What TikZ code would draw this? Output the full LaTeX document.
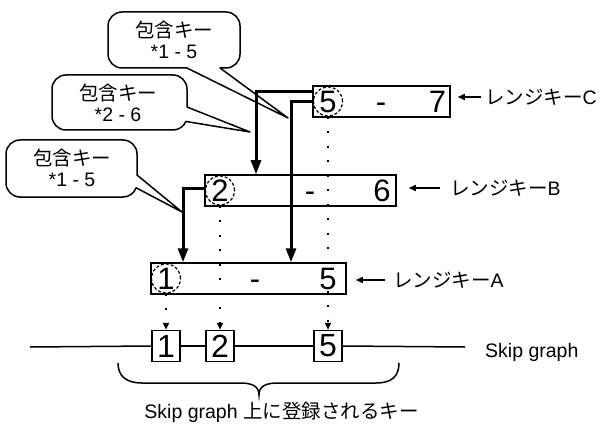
\documentclass[tikz,border=0pt]{standalone}
\usepackage{fontspec}
\setmainfont{Liberation Sans}
\newfontfamily\jp{Noto Sans CJK JP}
\usetikzlibrary{arrows.meta}
\begin{document}
\begin{tikzpicture}[x=1pt,y=1pt,
  keybox/.style={draw, line width=1.5pt, minimum height=31pt, inner sep=0pt, fill=white},
  digit/.style={font=\fontsize{31}{31}\selectfont, inner sep=0pt, anchor=base},
  dcirc/.style={draw, circle, dash pattern=on 3pt off 2pt, line width=1.2pt, minimum size=29pt, inner sep=0pt},
  smallbox/.style={draw, fill=white, line width=1.5pt, minimum width=28pt, minimum height=31pt, inner sep=0pt, font=\fontsize{32}{32}\selectfont},
  bigarrow/.style={line width=3pt, -{Triangle[length=14pt,width=10pt]}},
  dotarrow/.style={line width=2pt, dash pattern=on 2pt off 12.5pt, -{Triangle[length=7pt,width=6pt]}},
  labarrow/.style={line width=1.5pt, -{Triangle[length=7pt,width=6pt]}},
  lab/.style={font=\fontsize{19.5}{21}\selectfont, inner sep=0pt},
  callout/.style={draw, fill=white, line width=1.5pt, line join=round},
  plainline/.style={line width=1.5pt}
]
\useasboundingbox (0,0) rectangle (601,426);

% callouts
\path[callout] (288,308) -- (187,358) -- (122,358) arc[start angle=270,end angle=180,radius=14]
  -- (108,400) arc[start angle=180,end angle=90,radius=14]
  -- (226,414) arc[start angle=90,end angle=0,radius=14]
  -- (240,372) arc[start angle=0,end angle=-90,radius=14]
  -- (220,358) -- cycle;
\node[lab, align=center] (t1) at (174,386) {{\jp 包含キー}\\{}*1 - 5};

\path[callout] (250,294) -- (187,319) -- (187,337) arc[start angle=0,end angle=90,radius=14]
  -- (66,351) arc[start angle=90,end angle=180,radius=14]
  -- (52,310) arc[start angle=180,end angle=270,radius=14]
  -- (173,296) arc[start angle=270,end angle=337,radius=14] -- cycle;
\node[lab, align=center] (t2) at (118,323) {{\jp 包含キー}\\{}*2 - 6};

\path[callout] (182,214) -- (137,251) -- (137,272) arc[start angle=0,end angle=90,radius=14]
  -- (20,286) arc[start angle=90,end angle=180,radius=14]
  -- (6,243) arc[start angle=180,end angle=270,radius=14]
  -- (123,229) arc[start angle=270,end angle=340,radius=14] -- cycle;
\node[lab, align=center] (t3) at (72,258) {{\jp 包含キー}\\{}*1 - 5};

% range key boxes
\node[keybox, minimum width=137pt] (C) at (381.5,324.5) {};
\node[keybox, minimum width=191pt] (B) at (300.5,235.5) {};
\node[keybox, minimum width=195pt] (A) at (248.5,147.5) {};

\node[digit] (c5) at (328,313.8) {5};
\node[digit] (cd) at (381,313.8) {-};
\node[digit] (c7) at (437.5,313.8) {7};
\node[digit] (b2) at (220,224.8) {2};
\node[digit] (bd) at (310,224.8) {-};
\node[digit] (b6) at (382,224.8) {6};
\node[digit] (a1) at (166,136.8) {1};
\node[digit] (ad) at (255,136.8) {-};
\node[digit] (a5) at (328,136.8) {5};

\node[dcirc] (cc) at (328,324.5) {};
\node[dcirc] (cb) at (220,235.5) {};
\node[dcirc] (ca) at (166,147.5) {};

% skip graph
\coordinate (lineL) at (30,79);
\coordinate (lineR) at (465,79);
\node[smallbox] (s1) at (166,80) {1};
\node[smallbox] (s2) at (220,80) {2};
\node[smallbox] (s5) at (328,80) {5};
\draw[plainline] (lineL) -- (s1.west);
\draw[plainline] (s1.east) -- (s2.west);
\draw[plainline] (s2.east) -- (s5.west);
\draw[plainline] (s5.east) -- (lineR);

% dotted links
\draw[dotarrow] (cc.south) -- (s5.north);
\draw[dotarrow] (cb.south) -- (s2.north);
\draw[dotarrow] (ca.south) -- (s1.north);

% thick arrows
\draw[bigarrow] ([yshift=9.5pt]C.west) -| ([xshift=-44.5pt]B.north);
\draw[bigarrow] ([yshift=-0.5pt]C.west) -| ([xshift=42.5pt]A.north);
\draw[bigarrow] ([yshift=1.5pt]B.west) -| ([xshift=-65.5pt]A.north);

% labels
\node[lab, anchor=west] (lc) at (485,329) {{\jp レンジキー}C};
\node[lab, anchor=west] (lb) at (450,238) {{\jp レンジキー}B};
\node[lab, anchor=west] (la) at (393,146) {{\jp レンジキー}A};
\draw[labarrow, shorten <=4pt] (lc.west) -- ([xshift=7pt]C.east |- lc.west);
\draw[labarrow, shorten <=10pt] (lb.west) -- ([xshift=12pt]B.east |- lb.west);
\draw[labarrow, shorten <=8pt] (la.west) -- ([xshift=9pt]A.east |- la.west);

\node[lab, anchor=base west] (sg) at (485,69) {Skip graph};

% brace
\draw[plainline] (118,63) .. controls (118,50) and (126,43) .. (142,43) -- (240,43)
  .. controls (252,43) and (259,40) .. (259,31)
  .. controls (259,40) and (266,43) .. (278,43) -- (376,43)
  .. controls (392,43) and (399,50) .. (399,63);
\node[lab, anchor=base] (cap) at (281.5,8) {Skip graph {\jp 上に登録されるキー}};
\end{tikzpicture}
\end{document}
